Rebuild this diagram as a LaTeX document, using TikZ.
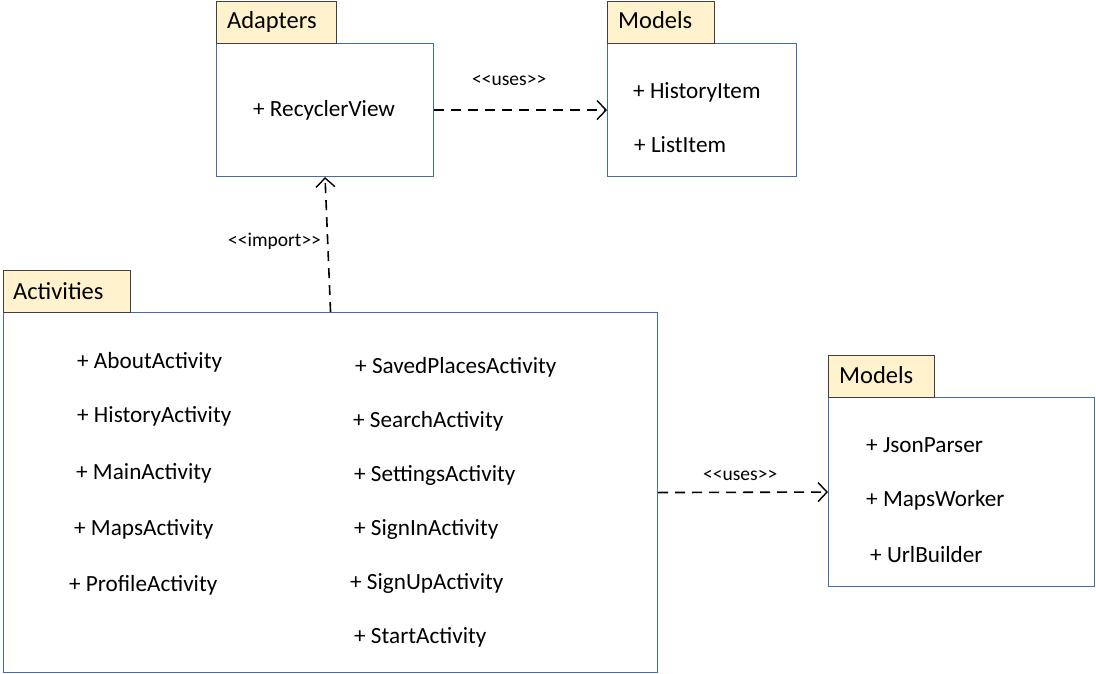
\documentclass[tikz,border=0pt]{standalone}
\usepackage{fontspec}
\setmainfont{Carlito}
\usetikzlibrary{arrows.meta}
\definecolor{tabfill}{RGB}{255,242,204}
\definecolor{tabline}{RGB}{64,64,64}
\definecolor{boxline}{RGB}{68,106,180}
\tikzset{
  pkgbody/.style={draw=boxline, line width=1.1pt, fill=white, anchor=north west, inner sep=0pt},
  pkgtab/.style={draw=tabline, line width=1.1pt, fill=tabfill, anchor=north west, inner sep=0pt},
  tabtext/.style={anchor=base west, inner sep=0pt, font=\fontsize{24.5}{29}\selectfont},
  item/.style={anchor=base west, inner sep=0pt, font=\fontsize{23.2}{27}\selectfont},
  stereo/.style={anchor=base west, inner sep=0pt, font=\fontsize{19.5}{23}\selectfont},
  dep/.style={line width=1.6pt, dash pattern=on 10pt off 7pt, -{Straight Barb[length=9pt,width=19pt,line width=1.4pt]}}
}
\begin{document}
\begin{tikzpicture}[x=1pt,y=-1pt]
\useasboundingbox (0,0) rectangle (1096,674);
% Adapters
\node[pkgbody, minimum width=217pt, minimum height=133pt] (adb) at (216,43) {};
\node[pkgtab, minimum width=120pt, minimum height=42pt] (adt) at (216,1) {};
\node[tabtext] (adtt) at (227,29) {Adapters};
\node[item] (rv) at (253,117) {+ RecyclerView};
% Models top
\node[pkgbody, minimum width=189pt, minimum height=133pt] (mdb) at (607,43) {};
\node[pkgtab, minimum width=107pt, minimum height=42pt] (mdt) at (607,1) {};
\node[tabtext] (mdtt) at (618,29) {Models};
\node[item] (hi) at (633,99) {+ HistoryItem};
\node[item] (li) at (634,153) {+ ListItem};
% Activities
\node[pkgbody, minimum width=654pt, minimum height=360pt] (acb) at (3,312) {};
\node[pkgtab, minimum width=127pt, minimum height=42pt] (act) at (3,270) {};
\node[tabtext] (actt) at (13,299) {Activities};
\node[item] (a1) at (77,368) {+ AboutActivity};
\node[item] (a2) at (77,422) {+ HistoryActivity};
\node[item] (a3) at (76,479) {+ MainActivity};
\node[item] (a4) at (74,535) {+ MapsActivity};
\node[item] (a5) at (69,591.5) {+ ProfileActivity};
\node[item] (b1) at (355,373) {+ SavedPlacesActivity};
\node[item] (b2) at (353,427.5) {+ SearchActivity};
\node[item] (b3) at (354,481.5) {+ SettingsActivity};
\node[item] (b4) at (354,535) {+ SignInActivity};
\node[item] (b5) at (350,589) {+ SignUpActivity};
\node[item] (b6) at (354,643) {+ StartActivity};
% Models right
\node[pkgbody, minimum width=266pt, minimum height=189pt] (m2b) at (828,397) {};
\node[pkgtab, minimum width=106pt, minimum height=42pt] (m2t) at (828,355) {};
\node[tabtext] (m2tt) at (839,383) {Models};
\node[item] (c1) at (866,452.5) {+ JsonParser};
\node[item] (c2) at (866,506) {+ MapsWorker};
\node[item] (c3) at (870,562.5) {+ UrlBuilder};
% connectors
\draw[dep] (adb.east) -- (mdb.west);
\node[stereo] (u1) at (472,86) {<{}<uses>{}>};
\draw[dep] (acb.north) -- (adb.south);
\node[stereo] (imp) at (228,247) {<{}<import>{}>};
\draw[dep] (acb.east) -- (m2b.west);
\node[stereo] (u2) at (703,480) {<{}<uses>{}>};
\end{tikzpicture}
\end{document}
